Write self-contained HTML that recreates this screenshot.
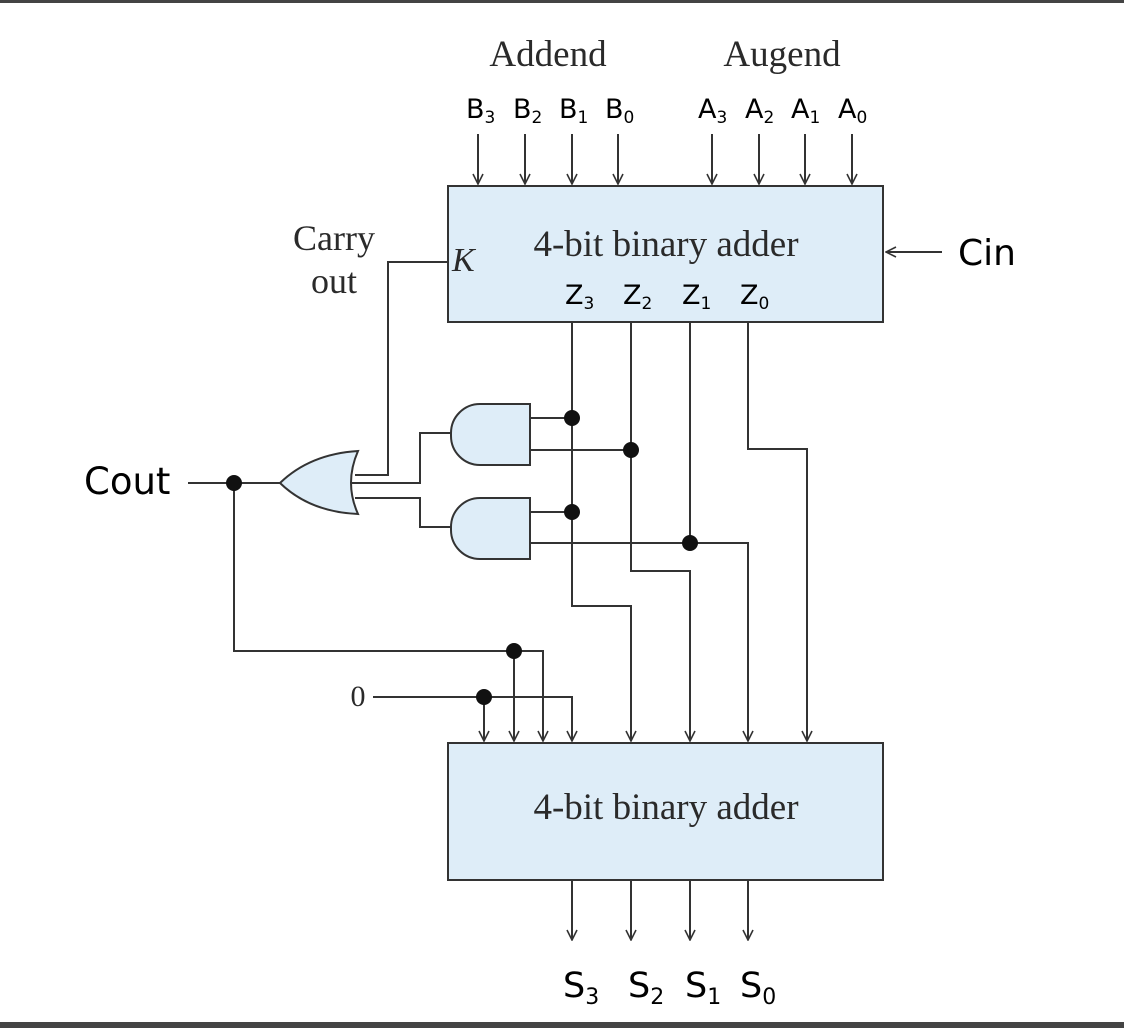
<!DOCTYPE html>
<html><head><meta charset="utf-8"><style>
html,body{margin:0;padding:0;background:#fff;}
svg{display:block;}
.s{font-family:"Liberation Serif",serif;fill:#2a2a2a;}
.c{font-family:"DejaVu Sans","Liberation Sans",sans-serif;fill:#000;}
</style></head><body>
<svg width="1124" height="1028" viewBox="0 0 1124 1028" xmlns="http://www.w3.org/2000/svg">
<defs>
<marker id="l" markerWidth="12" markerHeight="12" refX="11" refY="6" orient="auto" markerUnits="userSpaceOnUse">
<path d="M1,1 L11,6 L1,11" fill="none" stroke="#333" stroke-width="1.6"/>
</marker>
</defs>
<rect x="0" y="0" width="1124" height="3" fill="#444"/>
<rect x="0" y="1022" width="1124" height="6" fill="#444"/>

<g stroke="#333" stroke-width="2" fill="none">
<line x1="478" y1="134" x2="478" y2="184" marker-end="url(#l)"/>
<line x1="525" y1="134" x2="525" y2="184" marker-end="url(#l)"/>
<line x1="572" y1="134" x2="572" y2="184" marker-end="url(#l)"/>
<line x1="618" y1="134" x2="618" y2="184" marker-end="url(#l)"/>
<line x1="712" y1="134" x2="712" y2="184" marker-end="url(#l)"/>
<line x1="759" y1="134" x2="759" y2="184" marker-end="url(#l)"/>
<line x1="805" y1="134" x2="805" y2="184" marker-end="url(#l)"/>
<line x1="852" y1="134" x2="852" y2="184" marker-end="url(#l)"/>
<line x1="942" y1="252" x2="886" y2="252" marker-end="url(#l)"/>

<polyline points="572,322 572,606 631,606 631,741" marker-end="url(#l)"/>
<polyline points="631,322 631,571 690,571 690,741" marker-end="url(#l)"/>
<polyline points="690,322 690,543"/>
<polyline points="748,322 748,449 807,449 807,741" marker-end="url(#l)"/>

<line x1="530" y1="418" x2="572" y2="418"/>
<line x1="530" y1="450" x2="631" y2="450"/>
<line x1="530" y1="512" x2="572" y2="512"/>
<polyline points="530,543 748,543 748,741" marker-end="url(#l)"/>

<polyline points="447,262 388,262 388,475 355,475"/>
<polyline points="451,433 420,433 420,483 352,483"/>
<polyline points="451,527 420,527 420,498 355,498"/>

<line x1="188" y1="483" x2="281" y2="483"/>
<polyline points="234,483 234,651 543,651 543,741" marker-end="url(#l)"/>
<line x1="514" y1="651" x2="514" y2="741" marker-end="url(#l)"/>
<polyline points="373,697 572,697 572,741" marker-end="url(#l)"/>
<line x1="484" y1="697" x2="484" y2="741" marker-end="url(#l)"/>

<line x1="572" y1="880" x2="572" y2="940" marker-end="url(#l)"/>
<line x1="631" y1="880" x2="631" y2="940" marker-end="url(#l)"/>
<line x1="690" y1="880" x2="690" y2="940" marker-end="url(#l)"/>
<line x1="748" y1="880" x2="748" y2="940" marker-end="url(#l)"/>
</g>

<rect x="448" y="186" width="435" height="136" fill="#deedf8" stroke="#333" stroke-width="2"/>
<rect x="448" y="743" width="435" height="137" fill="#deedf8" stroke="#333" stroke-width="2"/>

<path d="M451,433 A29,29 0 0 1 480,404 L530,404 L530,465 L480,465 A29,29 0 0 1 451,436 Z" fill="#deedf8" stroke="#333" stroke-width="2"/>
<path d="M451,527 A29,29 0 0 1 480,498 L530,498 L530,559 L480,559 A29,29 0 0 1 451,530 Z" fill="#deedf8" stroke="#333" stroke-width="2"/>
<path d="M358,451 Q344,483 358,514 Q310,512 280,483 Q310,454 358,451 Z" fill="#deedf8" stroke="#333" stroke-width="2"/>

<g fill="#111">
<circle cx="572" cy="418" r="8"/><circle cx="631" cy="450" r="8"/>
<circle cx="572" cy="512" r="8"/><circle cx="690" cy="543" r="8"/>
<circle cx="234" cy="483" r="8"/><circle cx="514" cy="651" r="8"/>
<circle cx="484" cy="697" r="8"/>
</g>

<text class="s" x="548" y="66" font-size="37" text-anchor="middle">Addend</text>
<text class="s" x="782" y="66" font-size="37" text-anchor="middle">Augend</text>
<text class="s" x="334" y="250" font-size="36" text-anchor="middle">Carry</text>
<text class="s" x="334" y="293" font-size="36" text-anchor="middle">out</text>
<text class="s" x="452" y="271" font-size="34" font-style="italic">K</text>
<text class="s" x="666" y="256" font-size="37" text-anchor="middle">4-bit binary adder</text>
<text class="s" x="666" y="819" font-size="37" text-anchor="middle">4-bit binary adder</text>
<text class="s" x="358" y="706" font-size="30" text-anchor="middle">0</text>

<g class="c" font-size="27">
<text x="466" y="118">B<tspan font-size="17" dy="5">3</tspan></text>
<text x="513" y="118">B<tspan font-size="17" dy="5">2</tspan></text>
<text x="559" y="118">B<tspan font-size="17" dy="5">1</tspan></text>
<text x="605" y="118">B<tspan font-size="17" dy="5">0</tspan></text>
<text x="698" y="118">A<tspan font-size="17" dy="5">3</tspan></text>
<text x="745" y="118">A<tspan font-size="17" dy="5">2</tspan></text>
<text x="791" y="118">A<tspan font-size="17" dy="5">1</tspan></text>
<text x="838" y="118">A<tspan font-size="17" dy="5">0</tspan></text>
<text x="565" y="304">Z<tspan font-size="17" dy="5">3</tspan></text>
<text x="623" y="304">Z<tspan font-size="17" dy="5">2</tspan></text>
<text x="682" y="304">Z<tspan font-size="17" dy="5">1</tspan></text>
<text x="740" y="304">Z<tspan font-size="17" dy="5">0</tspan></text>
</g>
<g class="c" font-size="35">
<text x="563" y="997">S<tspan font-size="22" dy="7">3</tspan></text>
<text x="628" y="997">S<tspan font-size="22" dy="7">2</tspan></text>
<text x="685" y="997">S<tspan font-size="22" dy="7">1</tspan></text>
<text x="740" y="997">S<tspan font-size="22" dy="7">0</tspan></text>
<text x="958" y="265" font-size="36">Cin</text>
<text x="84" y="494" font-size="37">Cout</text>
</g>
</svg>
</body></html>
